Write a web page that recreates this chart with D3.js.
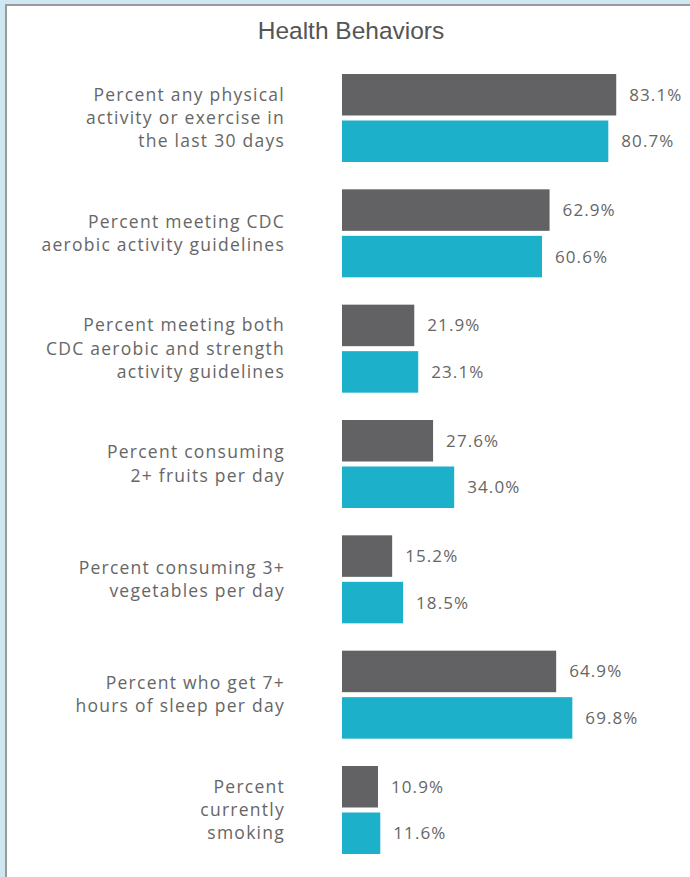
<!DOCTYPE html>
<html>
<head>
<meta charset="utf-8">
<script src="https://cdn.jsdelivr.net/npm/d3@7"></script>
<style>
  body { margin: 0; background: #fff; }
  svg { display: block; }
</style>
</head>
<body>
<div id="chart"></div>
<script>
// categories (label lines) and the two series
var categories = [
    ["Percent any physical", "activity or exercise in", "the last 30 days"],
    ["Percent meeting CDC", "aerobic activity guidelines"],
    ["Percent meeting both", "CDC aerobic and strength", "activity guidelines"],
    ["Percent consuming", "2+ fruits per day"],
    ["Percent consuming 3+", "vegetables per day"],
    ["Percent who get 7+", "hours of sleep per day"],
    ["Percent", "currently", "smoking"]
];
var seriesNames = ["first", "second"];
var firstValues = [83.1, 62.9, 21.9, 27.6, 15.2, 64.9, 10.9];
var secondValues = [80.7, 60.6, 23.1, 34.0, 18.5, 69.8, 11.6];
var title = "Health Behaviors";

var width = 690, height = 877;
var colors = ["#626264", "#1cb0cb"];
var textColor = "#666";

var svg = d3.select("#chart")
    .append("svg")
    .attr("width", width)
    .attr("height", height);

// frame
svg.append("rect").attr("width", width).attr("height", height).attr("fill", "#cfe7f0");
svg.append("rect").attr("x", 5).attr("y", 4).attr("width", width - 5).attr("height", height - 4).attr("fill", "#9a9a9a");
svg.append("rect").attr("x", 7).attr("y", 6).attr("width", width - 7).attr("height", height - 6).attr("fill", "#fff");

svg.append("text")
    .attr("x", 351)
    .attr("y", 39)
    .attr("text-anchor", "middle")
    .style("font-family", "'Liberation Sans', Arial, sans-serif")
    .style("font-size", "24.5px")
    .attr("fill", "#555")
    .text(title);

var data = categories.map(function (c, i) {
    return { label: c, values: [firstValues[i], secondValues[i]] };
});

var y0 = d3.scaleBand()
    .domain(d3.range(categories.length))
    .range([74, 854])
    .paddingInner(0.237)
    .paddingOuter(0);

var y1 = d3.scaleBand()
    .domain(seriesNames)
    .range([0, y0.bandwidth()])
    .paddingInner(0.1075);

var x = d3.scaleLinear()
    .domain([0, 100])
    .range([342, 672]);

var groups = svg.selectAll(".group")
    .data(data).enter()
    .append("g")
    .attr("class", "group")
    .attr("transform", (d, i) => "translate(0," + y0(i) + ")");

groups.selectAll("rect")
    .data(d => d.values.map((v, k) => ({ key: seriesNames[k], value: v, k: k })))
    .enter().append("rect")
    .attr("x", x(0))
    .attr("y", d => y1(d.key))
    .attr("width", d => x(d.value) - x(0))
    .attr("height", y1.bandwidth())
    .attr("fill", d => colors[d.k]);

groups.selectAll(".val")
    .data(d => d.values.map((v, k) => ({ key: seriesNames[k], value: v })))
    .enter().append("text")
    .attr("class", "val")
    .attr("x", d => x(d.value) + 13)
    .attr("y", d => y1(d.key) + y1.bandwidth() / 2)
    .attr("dy", "0.35em")
    .style("font-family", "'Open Sans', sans-serif")
    .style("font-size", "17px")
    .style("letter-spacing", "1.1px")
    .attr("fill", textColor)
    .text(d => d.value.toFixed(1) + "%");

var lineH = 23.3;
var labels = groups.append("text")
    .attr("text-anchor", "end")
    .style("font-family", "'Open Sans', sans-serif")
    .style("font-size", "17.5px")
    .style("letter-spacing", "1.25px")
    .attr("fill", textColor);

labels.selectAll("tspan")
    .data(d => d.label.map((t, k) => ({ t: t, k: k, n: d.label.length })))
    .enter().append("tspan")
    .attr("x", 285)
    .attr("y", d => y0.bandwidth() / 2 + (d.k - (d.n - 1) / 2) * lineH)
    .attr("dy", "0.35em")
    .text(d => d.t);
</script>
</body>
</html>
